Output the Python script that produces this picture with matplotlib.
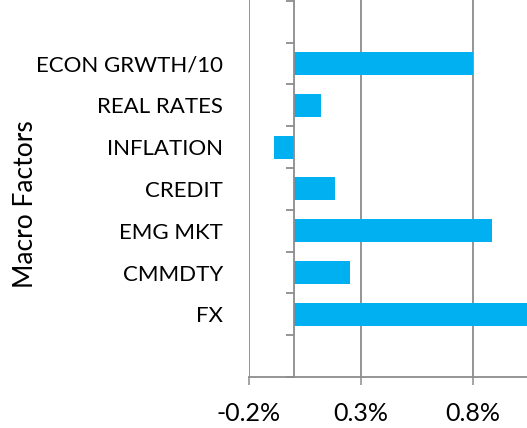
import matplotlib

matplotlib.use("Agg")
import matplotlib.pyplot as plt
import numpy as np
from matplotlib.ticker import FixedLocator, FuncFormatter

# bottom-to-top order
categories = ["FX", "CMMDTY", "EMG MKT", "CREDIT", "INFLATION", "REAL RATES", "ECON GRWTH/10"]
values = [1.10, 0.25, 0.885, 0.185, -0.087, 0.12, 0.80]  # percent
xticks = [-0.2, 0.3, 0.8]

BLUE = "#00B0F0"
GRID = "#8c8c8c"

plt.rcParams["font.family"] = ["Lato", "DejaVu Sans"]

fig = plt.figure(figsize=(5.27, 4.28), dpi=100)
ax = fig.add_axes([248.7 / 527, 51 / 428, 278.3 / 527, 377 / 428])

y = np.arange(len(categories))
ax.barh(y, values, height=0.55, color=BLUE, zorder=3)

ax.set_xlim(-0.2, 1.04)
ax.set_ylim(-1.5, len(categories) + 0.52)

ax.set_xticks(xticks)
ax.xaxis.set_major_formatter(FuncFormatter(lambda v, _: f"{v:.1f}%"))
ax.grid(axis="x", color=GRID, linewidth=1.3, zorder=0)
ax.tick_params(axis="x", length=6, width=1.1, color=GRID, pad=12, labelsize=18)

ax.set_yticks(y)
ax.set_yticklabels(categories)
ax.yaxis.set_minor_locator(FixedLocator(np.arange(-1.5, len(categories) + 0.6, 1.0)))
ax.tick_params(axis="y", which="major", length=0, pad=51, labelsize=16)
ax.tick_params(axis="y", which="minor", length=6, width=1.3, color=GRID)

for s in ("top", "right"):
    ax.spines[s].set_visible(False)
ax.spines["left"].set_position(("data", 0))
ax.spines["left"].set_color(GRID)
ax.spines["left"].set_linewidth(1.3)
ax.spines["left"].set_zorder(4)
ax.spines["bottom"].set_color(GRID)
ax.spines["bottom"].set_linewidth(1.3)

ax.set_ylabel("Macro Factors", fontsize=19)
ax.yaxis.set_label_coords(-0.757, 0.459)

fig.savefig("out.png", dpi=100)
